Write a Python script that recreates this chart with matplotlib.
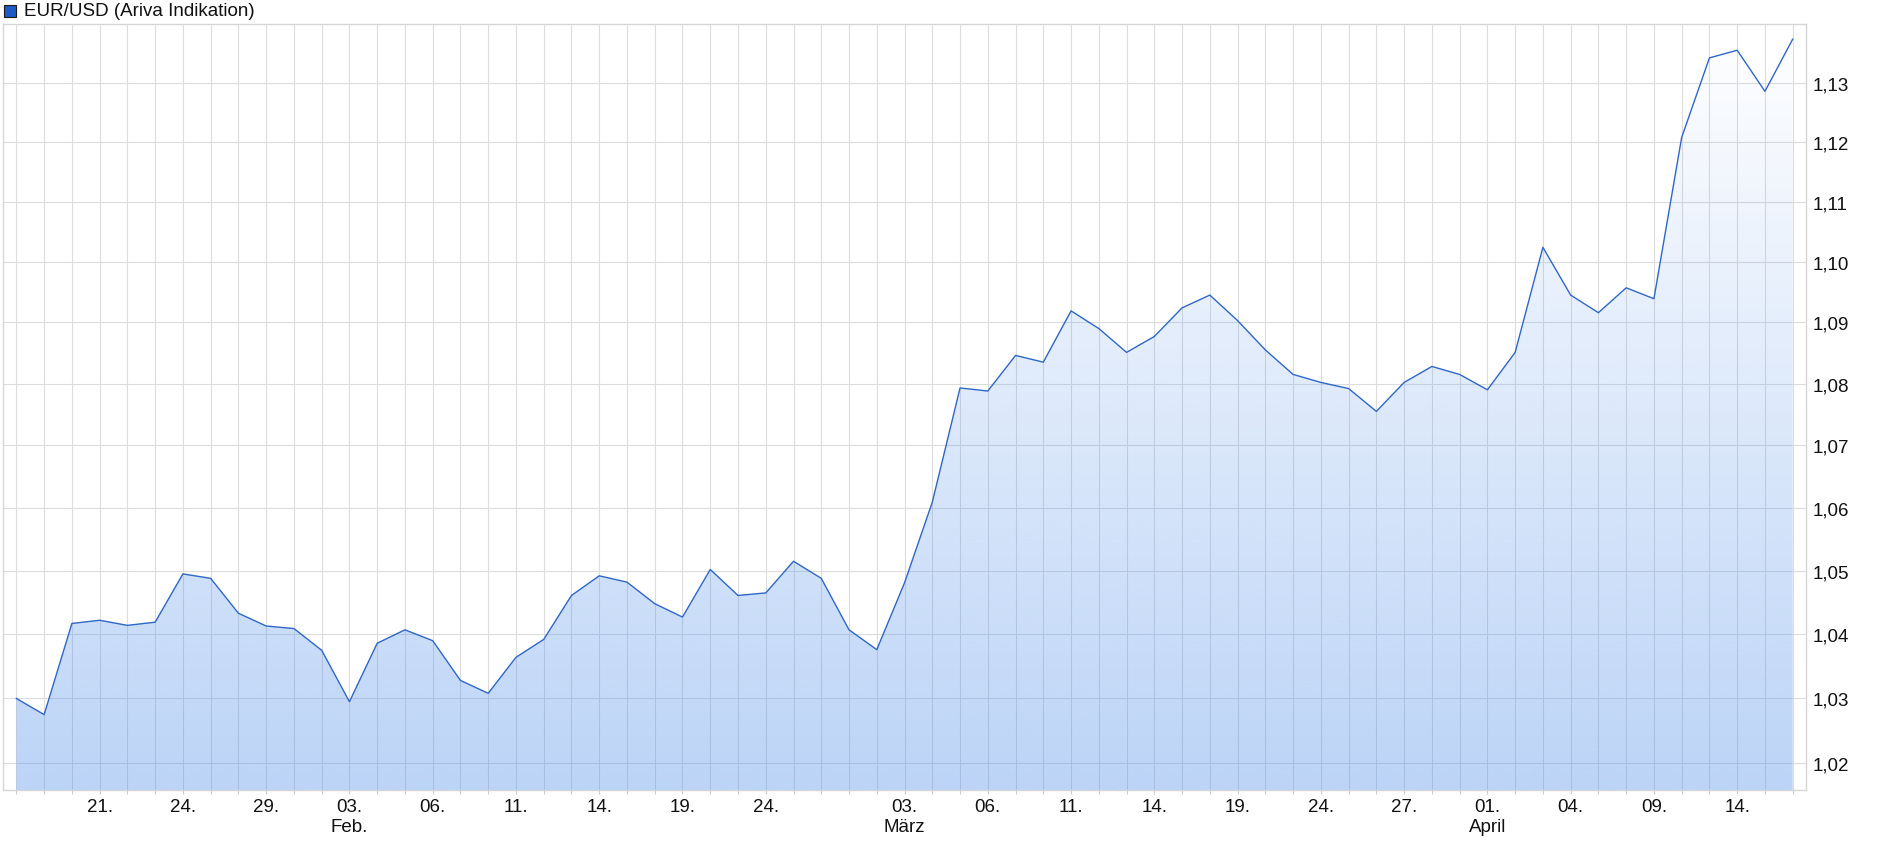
import matplotlib
matplotlib.use('Agg')
import matplotlib.pyplot as plt
import matplotlib.transforms as mtransforms
from matplotlib.patches import Rectangle
from matplotlib.ticker import FixedLocator, NullLocator
import numpy as np

# ---------------- data ----------------
dates = [
    "2025-01-16", "2025-01-17", "2025-01-20", "2025-01-21", "2025-01-22", "2025-01-23",
    "2025-01-24", "2025-01-27", "2025-01-28", "2025-01-29", "2025-01-30", "2025-01-31",
    "2025-02-03", "2025-02-04", "2025-02-05", "2025-02-06", "2025-02-07", "2025-02-10",
    "2025-02-11", "2025-02-12", "2025-02-13", "2025-02-14", "2025-02-17", "2025-02-18",
    "2025-02-19", "2025-02-20", "2025-02-21", "2025-02-24", "2025-02-25", "2025-02-26",
    "2025-02-27", "2025-02-28", "2025-03-03", "2025-03-04", "2025-03-05", "2025-03-06",
    "2025-03-07", "2025-03-10", "2025-03-11", "2025-03-12", "2025-03-13", "2025-03-14",
    "2025-03-17", "2025-03-18", "2025-03-19", "2025-03-20", "2025-03-21", "2025-03-24",
    "2025-03-25", "2025-03-26", "2025-03-27", "2025-03-28", "2025-03-31", "2025-04-01",
    "2025-04-02", "2025-04-03", "2025-04-04", "2025-04-07", "2025-04-08", "2025-04-09",
    "2025-04-10", "2025-04-11", "2025-04-14", "2025-04-15", "2025-04-16",
]

eurusd = [
    1.0300, 1.0275, 1.0417, 1.0422, 1.0414, 1.0419, 1.0495, 1.0488, 1.0433, 1.0413,
    1.0409, 1.0375, 1.0295, 1.0386, 1.0407, 1.0390, 1.0328, 1.0308, 1.0364, 1.0392,
    1.0461, 1.0492, 1.0482, 1.0448, 1.0427, 1.0502, 1.0461, 1.0465, 1.0515, 1.0488,
    1.0407, 1.0376, 1.0481, 1.0609, 1.0793, 1.0788, 1.0846, 1.0835, 1.0919, 1.0890,
    1.0851, 1.0877, 1.0924, 1.0945, 1.0903, 1.0855, 1.0815, 1.0802, 1.0792, 1.0755,
    1.0802, 1.0828, 1.0815, 1.0790, 1.0851, 1.1024, 1.0945, 1.0916, 1.0957, 1.0939,
    1.1208, 1.1343, 1.1356, 1.1286, 1.1375,
]

labeled_dates = ["2025-01-21", "2025-01-24", "2025-01-29", "2025-02-03", "2025-02-06",
                 "2025-02-11", "2025-02-14", "2025-02-19", "2025-02-24", "2025-03-03",
                 "2025-03-06", "2025-03-11", "2025-03-14", "2025-03-19", "2025-03-24",
                 "2025-03-27", "2025-04-01", "2025-04-04", "2025-04-09", "2025-04-14"]
month_dates = ["2025-02-03", "2025-03-03", "2025-04-01"]
month_names = ["Feb.", "März", "April"]
y_ticks = [1.02, 1.03, 1.04, 1.05, 1.06, 1.07, 1.08, 1.09, 1.10, 1.11, 1.12, 1.13]
legend_label = "EUR/USD (Ariva Indikation)"

# ---------------- figure ----------------
plt.rcParams['font.family'] = ['Liberation Sans', 'DejaVu Sans']
W, H = 1880, 854
fig = plt.figure(figsize=(W / 100, H / 100), dpi=100)
ax = fig.add_axes([2.5 / W, 63 / H, 1803.8 / W, 766 / H])

x = np.arange(len(eurusd))
ylo, yhi = 1.0159, 1.1401

ax.set_yscale('log')
ax.set_xlim(-0.5, len(eurusd) - 0.51)
ax.set_ylim(ylo, yhi)
ax.set_autoscale_on(False)

# grid
ax.set_axisbelow(True)
ax.xaxis.set_major_locator(FixedLocator(x))
ax.yaxis.set_major_locator(FixedLocator(y_ticks))
ax.yaxis.set_minor_locator(NullLocator())
ax.xaxis.set_minor_locator(NullLocator())
ax.grid(True, color='#dcdcdc', linewidth=0.8)

# x tick labels
lab_idx = {dates.index(d): d for d in labeled_dates}
xlabels = []
for i, d in enumerate(dates):
    if i in lab_idx:
        xlabels.append(d[8:10] + ".")
    else:
        xlabels.append("")
ax.set_xticklabels(xlabels)
ax.tick_params(axis='x', length=3, color='#cccccc', labelsize=13.5, pad=2.5,
               labelcolor='#111111')

# y tick labels
ax.yaxis.tick_right()
ax.set_yticklabels([f"{v:.2f}".replace('.', ',') for v in y_ticks])
ax.tick_params(axis='y', length=0, labelsize=13.5, pad=4.5, labelcolor='#111111')

for sp in ax.spines.values():
    sp.set_color('#d6d6d6')
    sp.set_linewidth(1.0)

# gradient fill under the line
Hn = 256
img = np.zeros((Hn, 1, 4))
img[..., 0] = 87 / 255
img[..., 1] = 147 / 255
img[..., 2] = 235 / 255
img[:, 0, 3] = np.linspace(0.0, 0.40, Hn)
poly = ax.fill_between(x, eurusd, ylo, facecolor='none', edgecolor='none')
im = ax.imshow(img, extent=[0, 1, 0, 1], transform=ax.transAxes, aspect='auto',
               zorder=1, interpolation='bilinear')
im.set_clip_path(poly.get_paths()[0], transform=ax.transData)

ax.plot(x, eurusd, color='#2f67c7', linewidth=1.0, zorder=3)

# month labels
trans = mtransforms.blended_transform_factory(ax.transData, ax.transAxes)
for d, name in zip(month_dates, month_names):
    ax.text(dates.index(d), -0.047, name, transform=trans, ha='center', va='center',
            fontsize=13.5, color='#111111')

# legend
fig.patches.append(Rectangle((3.5 / W, (H - 17.5) / H), 12 / W, 12 / H,
                             transform=fig.transFigure, facecolor='#1f5bc4',
                             edgecolor='#1a1a1a', linewidth=0.8))
fig.text(24.5 / W, (H - 12) / H, legend_label, ha='left', va='center',
         fontsize=13.5, color='#111111')

fig.savefig('out.png', dpi=100)
